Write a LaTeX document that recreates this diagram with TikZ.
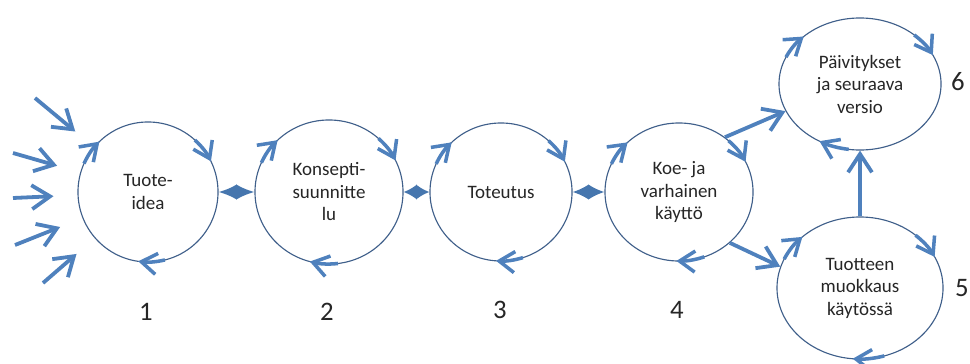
\documentclass[tikz,border=0pt]{standalone}
\usepackage{fontspec}
\setmainfont{Carlito}
\usepackage{tikz}
\usetikzlibrary{positioning, calc, shapes.geometric, arrows.meta}
\definecolor{ringline}{HTML}{3F5F8A}
\definecolor{flowblue}{HTML}{4F81BD}
\definecolor{linkblue}{HTML}{4676AE}

\begin{document}
\begin{tikzpicture}[
        x=0.025cm, y=0.025cm,
        % Style for the stage rings (ellipses)
        stage/.style={
            ellipse, draw=ringline, line width=0.8pt, fill=white,
            inner sep=0pt, align=center,
            font=\fontsize{13.5}{16}\selectfont, text=black!85
        },
        % Thick blue arrows
        flow/.style={
            -{Straight Barb[length=13pt, width=17pt]}, line width=2.7pt, draw=flowblue
        },
        % Short diamond-like links between the rings (#1 = half the gap)
        link/.style={
            {Latex[length=#1, width=11pt]}-{Latex[length=#1, width=11pt]},
            line width=1.5pt, draw=linkblue
        },
        turnhead/.style={
            -{Straight Barb[length=11pt, width=15pt]}, line width=2.5pt, draw=flowblue
        },
        num/.style={font=\fontsize{19}{22}\selectfont, text=black!85},
        % Reusable "pic" for the three turning arrowheads on a ring
        pics/turns/.style args={#1/#2/#3}{code={
            \draw[turnhead] (156:#1 and #2) arc[start angle=156, end angle=134, x radius=#1, y radius=#2];
            \draw[turnhead] (48:#1 and #2) arc[start angle=48, end angle=26, x radius=#1, y radius=#2];
            \draw[turnhead] (#3+22:#1 and #2) arc[start angle=#3+22, end angle=#3, x radius=#1, y radius=#2];
        }}
    ]

        \useasboundingbox (0,0) rectangle (970,363);

        % 1. Stages
        \node[stage, minimum width=3.5cm, minimum height=3.5cm]   (idea)     at (148,171) {Tuote-\\idea};
        \node[stage, minimum width=3.7cm, minimum height=3.6cm]   (konsepti) at (329,171) {Konsepti-\\suunnitte\\lu};
        \node[stage, minimum width=3.55cm, minimum height=3.45cm] (toteutus) at (501,171) {Toteutus};
        \node[stage, minimum width=3.7cm, minimum height=3.45cm]  (kaytto)   at (679,171) {Koe- ja\\varhainen\\käyttö};
        \node[stage, minimum width=4.05cm, minimum height=3.3cm]  (paivitys) at (860,279) {Päivitykset\\ja seuraava\\versio};
        \node[stage, minimum width=4.15cm, minimum height=3.55cm] (muokkaus) at (860,75)  {Tuotteen\\muokkaus\\käytössä};

        % 2. Turning arrows on each ring
        \pic at (idea.center)     {turns=70/70/262};
        \pic at (konsepti.center) {turns=74/72/255};
        \pic at (toteutus.center) {turns=71/69/266};
        \pic at (kaytto.center)   {turns=74/69/268};
        \pic at (paivitys.center) {turns=81/66/240};
        \pic at (muokkaus.center) {turns=83/71/265};

        % 3. Step numbers
        \node[num] (n1) at (146,51)  {1};
        \node[num] (n2) at (327,51)  {2};
        \node[num] (n3) at (500,53)  {3};
        \node[num] (n4) at (677,53)  {4};
        \node[num] (n5) at (962,75)  {5};
        \node[num] (n6) at (958,281) {6};

        % 4. Links along the chain
        \draw[link=13pt]   (idea) -- (konsepti);
        \draw[link=9.5pt]  (konsepti) -- (toteutus);
        \draw[link=11.5pt] (toteutus) -- (kaytto);

        % 5. Branches after early use
        \draw[flow] (kaytto.50) -- (paivitys.200);
        \draw[flow] (kaytto.-45) -- (muokkaus.165);
        \draw[flow] (muokkaus.north) -- (paivitys.south);

        % 6. Incoming ideas
        \coordinate (in1) at (35,265);
        \coordinate (in2) at (13,210);
        \coordinate (in3) at (13,165);
        \coordinate (in4) at (15,118);
        \coordinate (in5) at (43,80);
        \draw[flow, shorten >=0.6cm] (in1) -- (idea);
        \draw[flow, shorten >=0.6cm] (in2) -- (idea);
        \draw[flow, shorten >=0.6cm] (in3) -- (idea);
        \draw[flow, shorten >=0.6cm] (in4) -- (idea);
        \draw[flow, shorten >=0.6cm] (in5) -- (idea);

    \end{tikzpicture}
\end{document}
